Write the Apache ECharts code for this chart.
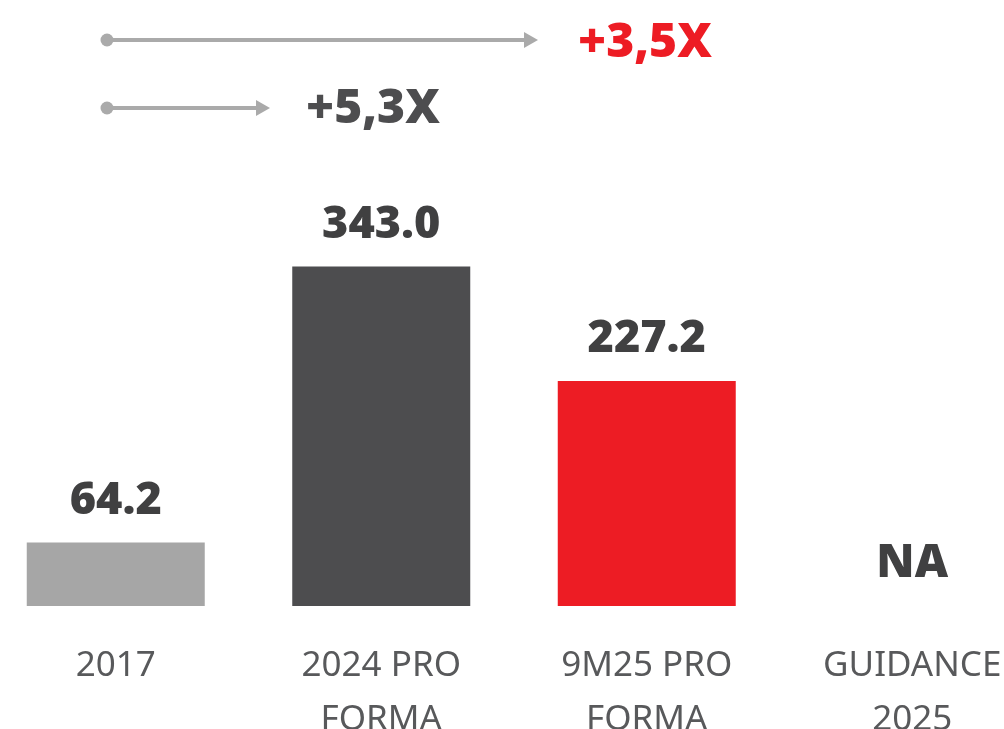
<!DOCTYPE html>
<html>
<head>
<meta charset="utf-8">
<script src="https://cdn.jsdelivr.net/npm/echarts@6/dist/echarts.min.js"></script>
<style>
  html, body { margin: 0; padding: 0; background: #ffffff; }
  #chart { width: 1004px; height: 729px; }
</style>
</head>
<body>
<div id="chart"></div>
<script>
// Categories and values
const categories = ['2017', '2024 PRO\nFORMA', '9M25 PRO\nFORMA', 'GUIDANCE\n2025'];
const values = [64.2, 343.0, 227.2, null];
const barColors = ['#a6a6a6', '#4d4d4f', '#ed1c24', '#a6a6a6'];
const missingLabel = 'NA';

// Growth multiples shown with the arrows
const growthLabels = ['+3,5X', '+5,3X'];
const growthColors = ['#ed1c24', '#4d4d4f'];

const chart = echarts.init(document.getElementById('chart'));

const seriesData = values.map((v, i) => ({
  value: v === null ? 0 : v,
  itemStyle: { color: barColors[i] },
  label: v === null ? { formatter: missingLabel, fontSize: 46 } : {}
}));

const arrowColor = '#aaaaaa';
function arrow(y, x0, x1) {
  return [
    { type: 'line', shape: { x1: x0, y1: y, x2: x1 - 12, y2: y },
      style: { stroke: arrowColor, lineWidth: 4 } },
    { type: 'circle', shape: { cx: x0, cy: y, r: 6.5 }, style: { fill: arrowColor } },
    { type: 'polygon', shape: { points: [[x1 - 14, y - 8], [x1, y], [x1 - 14, y + 8]] },
      style: { fill: arrowColor } }
  ];
}

chart.setOption({
  animation: false,
  backgroundColor: '#ffffff',
  grid: { left: -17, right: -41, top: 210, bottom: 123, containLabel: false, outerBoundsMode: 'none' },
  xAxis: {
    type: 'category',
    data: categories,
    axisLine: { show: false },
    axisTick: { show: false },
    axisLabel: {
      color: '#58595b',
      fontFamily: 'Noto Sans',
      fontSize: 35,
      lineHeight: 54,
      margin: 33,
      verticalAlign: 'top'
    }
  },
  yAxis: {
    type: 'value',
    min: 0,
    max: 400,
    show: false,
    splitLine: { show: false }
  },
  series: [{
    type: 'bar',
    data: seriesData,
    barWidth: 178,
    label: {
      show: true,
      position: 'top',
      distance: 19,
      color: '#404041',
      fontFamily: 'Open Sans',
      fontWeight: 800,
      fontSize: 45,
      formatter: p => p.value.toFixed(1)
    }
  }],
  graphic: [
    ...arrow(40, 107, 538),
    ...arrow(108, 107, 270),
    { type: 'text', left: 578, top: 19,
      style: { text: growthLabels[0], fill: growthColors[0], fontFamily: 'Open Sans',
               fontWeight: 800, fontSize: 48 } },
    { type: 'text', left: 306, top: 85,
      style: { text: growthLabels[1], fill: growthColors[1], fontFamily: 'Open Sans',
               fontWeight: 800, fontSize: 48 } }
  ]
});
</script>
</body>
</html>
